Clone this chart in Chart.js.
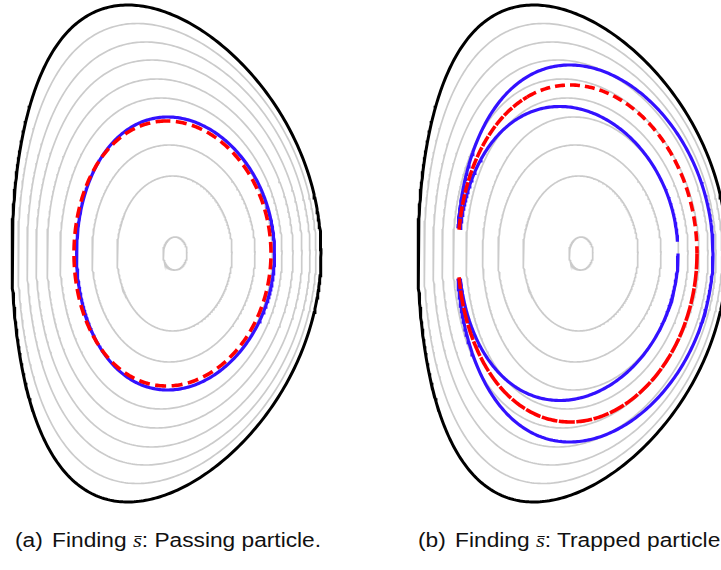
<!DOCTYPE html>
<html>
<head>
<meta charset="utf-8">
<script src="https://cdn.jsdelivr.net/npm/chart.js@4.4.1/dist/chart.umd.min.js"></script>
<style>
    body { margin: 0; background: #fff; width: 721px; height: 570px; overflow: hidden; position: relative;
           font-family: "Liberation Sans", Arial, sans-serif; }
    canvas { position: absolute; top: 0; }
    #panel-a { left: 0; }
    #panel-b { left: 360px; }
    .caption { position: absolute; top: 530px; font-size: 19.5px; line-height: 20px; white-space: nowrap;
               transform: scaleX(1.165); transform-origin: 0 0; color: #111; }
    .caption .tag { margin-right: 8px; }
    .caption i { font-family: "Liberation Serif", "DejaVu Serif", serif; }
</style>
</head>
<body>
<canvas id="panel-a" width="360" height="520"></canvas>
<canvas id="panel-b" width="361" height="520"></canvas>
<div class="caption" style="left:15px"><span class="tag">(a)</span>Finding <i>s&#x0304;</i>: Passing particle.</div>
<div class="caption" style="left:418px"><span class="tag">(b)</span>Finding <i>s&#x0304;</i>: Trapped particle.</div>
<script>
// Flux surfaces, boundary first then inwards. Units are figure px, magnetic axis at (0, 0).
// r0 = shift of the surface centre, a = half width, b = half height, delta = triangularity
const surfR0    = [-8.5, -8, -6.5, -6, -5, -4, -0.5, -1.5, -0.5, 0];
const surfA     = [154.5, 149, 141.5, 133, 123, 111, 98, 81.5, 57.5, 12];
const surfB     = [248.5, 230, 211.5, 193.5, 174.5, 155.5, 136.5, 108.5, 77.5, 16.5];
const surfDelta = [0.25, 0.20, 0.16, 0.13, 0.11, 0.09, 0.07, 0.05, 0.03, 0.0];

// (a) passing particle: orbit (blue) and fitted surface s-bar (red)
const passOrbit = { r0: 0.5, a: 99, b: 136.5, delta: 0.08 };
const passSbar  = { r0: -2.5, a: 98.5, b: 132.5, delta: 0.06 };

// (b) trapped particle: outer leg, inner leg, fitted surface; theta ranges of each drawn piece
const trapOuter = { r0: 4, a: 128, b: 188.5, delta: 0.12 };
const trapInner = { r0: -12.5, a: 109.5, b: 147, delta: 0.08 };
const trapSbar  = { r0: -3.5, a: 119.5, b: 168.5, delta: 0.06 };
const outerRange  = [3.008, -3.008];
const innerRanges = [[2.97, 0.08], [0.0, -2.97]];
const sbarRanges  = [[3.0, 1.95], [1.95, 0.0], [0.0, -3.0]];
const sbarDashes  = [[11, 1.5], [10, 5], [16, 1.5]];

// panel windows (axis position inside each canvas)
const axisY = 253.5;
const axisXa = 175;
const axisXb = 221;

const GRAY = "#cbcbcb";
const BLUE = "#3311ff";
const RED = "#ff0000";

function surface(s, t0, t1) {
    const pts = [];
    const n = Math.max(2, Math.ceil(Math.abs(t1 - t0) / 0.015));
    const x = Math.asin(s.delta);
    for (let i = 0; i <= n; i++) {
        const t = t0 + (t1 - t0) * i / n;
        pts.push({ x: s.r0 + s.a * Math.cos(t + x * Math.sin(t)), y: s.b * Math.sin(t) });
    }
    return pts;
}

function line(data, color, width, dash, order) {
    return {
        data: data,
        showLine: true,
        borderColor: color,
        borderWidth: width,
        borderDash: dash || [],
        borderCapStyle: "butt",
        fill: false,
        pointRadius: 0,
        clip: false,
        order: order
    };
}

function fluxSurfaces() {
    const sets = [];
    for (let i = 0; i < surfA.length; i++) {
        const s = { r0: surfR0[i], a: surfA[i], b: surfB[i], delta: surfDelta[i] };
        const pts = surface(s, 0, 2 * Math.PI);
        if (i === 0) sets.push(line(pts, "#000", 3, null, 2));
        else sets.push(line(pts, GRAY, 1.7, null, 3));
    }
    return sets;
}

function makeChart(id, axisX, width, datasets) {
    new Chart(document.getElementById(id), {
        type: "scatter",
        data: { datasets: datasets },
        options: {
            responsive: false,
            animation: false,
            events: [],
            layout: { padding: 0, autoPadding: false },
            plugins: { legend: { display: false }, tooltip: { enabled: false } },
            elements: { line: { tension: 0 }, point: { radius: 0 } },
            scales: {
                x: { type: "linear", display: false, min: -axisX, max: width - axisX },
                y: { type: "linear", display: false, min: axisY - 520, max: axisY }
            }
        }
    });
}

// panel (a)
const setsA = fluxSurfaces();
setsA.push(line(surface(passOrbit, 0, 2 * Math.PI), BLUE, 3.2, null, 1));
setsA.push(line(surface(passSbar, Math.PI / 2, Math.PI / 2 + 2 * Math.PI), RED, 3.6, [11, 5.5], 0));
makeChart("panel-a", axisXa, 360, setsA);

// panel (b)
const setsB = fluxSurfaces();
setsB.push(line(surface(trapOuter, outerRange[0], outerRange[1]), BLUE, 3.2, null, 1));
innerRanges.forEach(r => setsB.push(line(surface(trapInner, r[0], r[1]), BLUE, 3.2, null, 1)));
sbarRanges.forEach((r, i) => setsB.push(line(surface(trapSbar, r[0], r[1]), RED, 3.6, sbarDashes[i], 0)));
makeChart("panel-b", axisXb, 361, setsB);
</script>
</body>
</html>
